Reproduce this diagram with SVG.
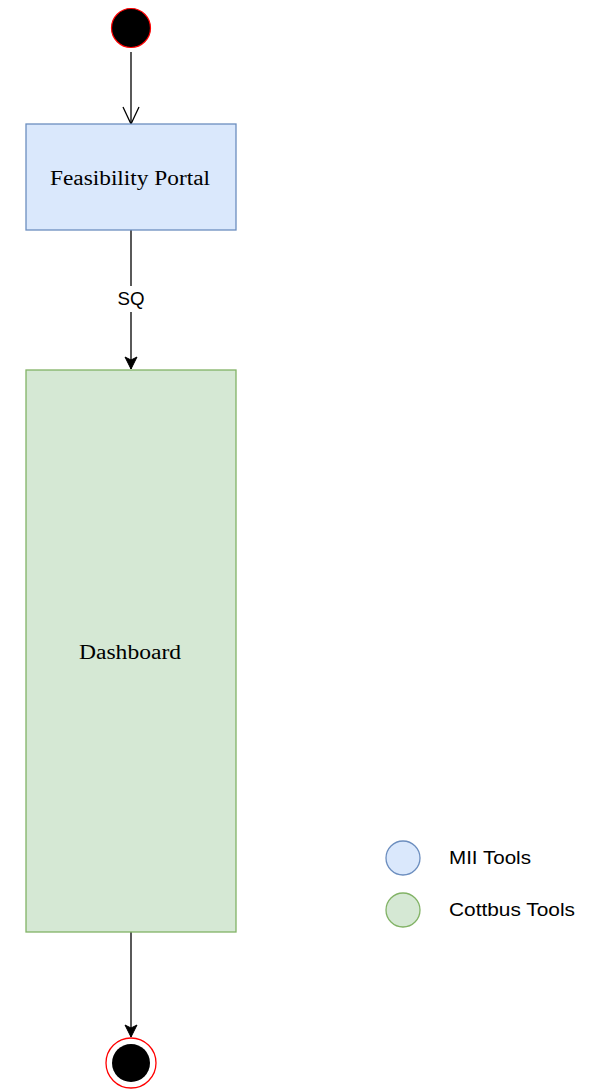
<svg xmlns="http://www.w3.org/2000/svg" width="598" height="1090" viewBox="0 0 598 1090">
  <style>
    .edge { stroke: #000; stroke-width: 1.3; fill: none; }
    .serif { font-family: "Liberation Serif", "Times New Roman", serif; font-size: 20px; fill: #000; }
    .sans { font-family: "Liberation Sans", Arial, sans-serif; font-size: 18px; fill: #000; }
    .blue { fill: #dae8fc; stroke: #6c8ebf; stroke-width: 1.3; }
    .green { fill: #d5e8d4; stroke: #82b366; stroke-width: 1.3; }
  </style>
  <defs>
    <!-- arrowheads drawn along +x; orient="auto" turns them to the line direction -->
    <marker id="open" markerWidth="20" markerHeight="20" refX="18" refY="10" orient="auto" markerUnits="userSpaceOnUse" viewBox="0 0 20 20">
      <path d="M1 2 L18 10 L1 18" fill="none" stroke="#000" stroke-width="1.3"/>
    </marker>
    <marker id="block" markerWidth="16" markerHeight="16" refX="14" refY="8" orient="auto" markerUnits="userSpaceOnUse" viewBox="0 0 16 16">
      <path d="M2 2 L5 8 L2 14 L14 8 Z" fill="#000" stroke="#000" stroke-width="1"/>
    </marker>
  </defs>
  <rect width="598" height="1090" fill="#fff"/>

  <g id="connectors">
    <line class="edge" x1="131" y1="52" x2="131" y2="124" marker-end="url(#open)"/>
    <line class="edge" x1="131" y1="230" x2="131" y2="286"/>
    <text class="sans" x="131" y="305" text-anchor="middle" font-size="17" textLength="27" lengthAdjust="spacingAndGlyphs">SQ</text>
    <line class="edge" x1="131" y1="312" x2="131" y2="369" marker-end="url(#block)"/>
    <line class="edge" x1="131" y1="932" x2="131" y2="1037" marker-end="url(#block)"/>
  </g>

  <g id="start">
    <circle cx="131" cy="28" r="19.5" fill="#000" stroke="#ff0000" stroke-width="1.2"/>
  </g>

  <g id="feasibility-portal">
    <rect class="blue" x="26" y="124" width="210" height="106"/>
    <text class="serif" x="130" y="185" text-anchor="middle" textLength="160" lengthAdjust="spacingAndGlyphs">Feasibility Portal</text>
  </g>

  <g id="dashboard">
    <rect class="green" x="26" y="370" width="210" height="562"/>
    <text class="serif" x="130" y="659" text-anchor="middle" textLength="102" lengthAdjust="spacingAndGlyphs">Dashboard</text>
  </g>

  <g id="end">
    <circle cx="131" cy="1063" r="25" fill="#fff" stroke="#ff0000" stroke-width="1.3"/>
    <circle cx="131" cy="1063" r="19" fill="#000"/>
  </g>

  <g id="legend-mii">
    <circle class="blue" cx="403" cy="858" r="17"/>
    <text class="sans" x="449" y="864" textLength="82" lengthAdjust="spacingAndGlyphs">MII Tools</text>
  </g>

  <g id="legend-cottbus">
    <circle class="green" cx="403" cy="910" r="17"/>
    <text class="sans" x="449" y="916" textLength="126" lengthAdjust="spacingAndGlyphs">Cottbus Tools</text>
  </g>
</svg>
